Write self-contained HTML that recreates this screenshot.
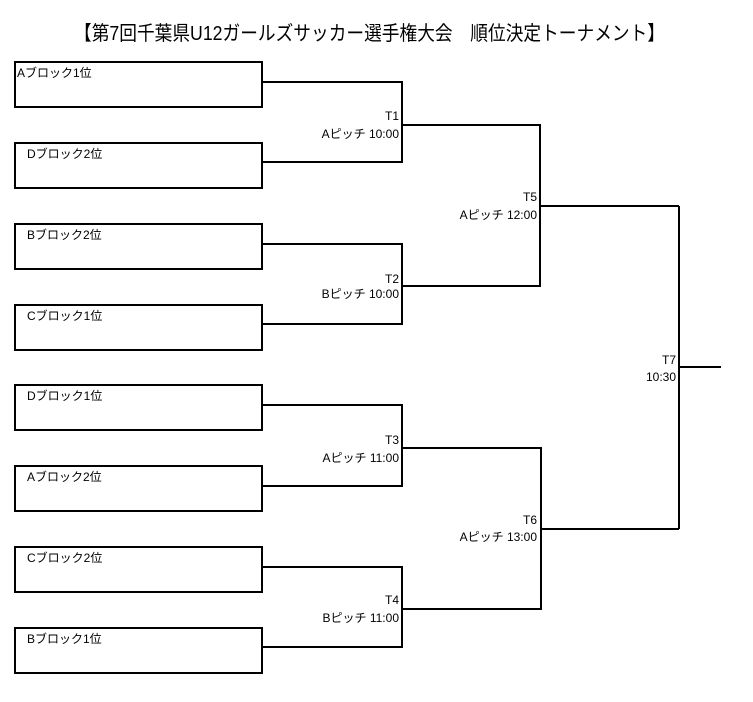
<!DOCTYPE html>
<html>
<head>
<meta charset="utf-8">
<style>
  html, body { margin: 0; padding: 0; background: #fff; }
  body { width: 753px; height: 702px; overflow: hidden; }
  svg { display: block; }
  text { font-family: "Liberation Sans", "Noto Sans CJK JP", sans-serif; fill: #000; }
</style>
</head>
<body>
<svg width="753" height="702" viewBox="0 0 753 702" xmlns="http://www.w3.org/2000/svg">
  <rect x="0" y="0" width="753" height="702" fill="#fff"/>
  <!-- Title -->
  <text x="74" y="40" font-size="20" textLength="591" lengthAdjust="spacingAndGlyphs">【第7回千葉県U12ガールズサッカー選手権大会　順位決定トーナメント】</text>

  <g fill="none" stroke="#000" stroke-width="2">
    <!-- Boxes -->
    <rect x="15" y="62" width="247" height="45"/>
    <rect x="15" y="143" width="247" height="45"/>
    <rect x="15" y="224" width="247" height="45"/>
    <rect x="15" y="305" width="247" height="45"/>
    <rect x="15" y="385" width="247" height="45"/>
    <rect x="15" y="466" width="247" height="45"/>
    <rect x="15" y="547" width="247" height="45"/>
    <rect x="15" y="628" width="247" height="45"/>

    <!-- First round brackets -->
    <path d="M263 82 H402 V162 H263"/>
    <path d="M263 244 H402 V324 H263"/>
    <path d="M263 405 H402 V486 H263"/>
    <path d="M263 567 H402 V647 H263"/>

    <!-- Semi-final brackets -->
    <path d="M402 125 H540 V286 H402"/>
    <path d="M402 448 H541 V609 H402"/>

    <!-- Outputs to final -->
    <path d="M540 206 H679"/>
    <path d="M541 529 H679"/>

    <!-- Final -->
    <path d="M679 206 V529"/>
    <path d="M679 367 H721"/>
  </g>

  <!-- Box labels -->
  <g font-size="12">
    <text x="17" y="77">Aブロック1位</text>
    <text x="27" y="158">Dブロック2位</text>
    <text x="27" y="239">Bブロック2位</text>
    <text x="27" y="320">Cブロック1位</text>
    <text x="27" y="400">Dブロック1位</text>
    <text x="27" y="481">Aブロック2位</text>
    <text x="27" y="562">Cブロック2位</text>
    <text x="27" y="643">Bブロック1位</text>
  </g>

  <!-- Match labels -->
  <g font-size="12" text-anchor="end">
    <text x="399" y="120">T1</text>
    <text x="399" y="138">Aピッチ 10:00</text>

    <text x="399" y="283">T2</text>
    <text x="399" y="298">Bピッチ 10:00</text>

    <text x="399" y="444">T3</text>
    <text x="399" y="462">Aピッチ 11:00</text>

    <text x="399" y="604">T4</text>
    <text x="399" y="622">Bピッチ 11:00</text>

    <text x="537" y="201">T5</text>
    <text x="537" y="219">Aピッチ 12:00</text>

    <text x="537" y="524">T6</text>
    <text x="537" y="541">Aピッチ 13:00</text>

    <text x="676" y="364">T7</text>
    <text x="676" y="381">10:30</text>
  </g>
</svg>
</body>
</html>
